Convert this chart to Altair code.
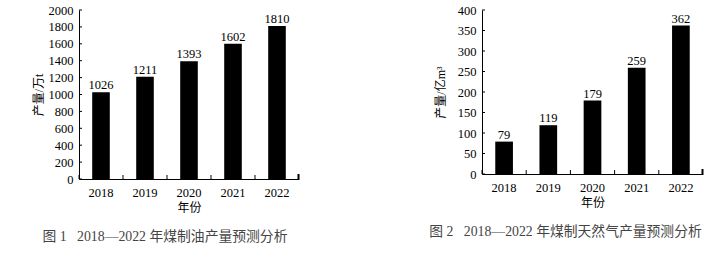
import altair as alt
import pandas as pd

# Forecast output of coal-to-liquids and coal-to-gas, 2018-2022
years = ["2018", "2019", "2020", "2021", "2022"]
oil_output = [1026, 1211, 1393, 1602, 1810]      # 万t
gas_output = [79, 119, 179, 259, 362]            # 亿m³
oil_ticks = [0, 200, 400, 600, 800, 1000, 1200, 1400, 1600, 1800, 2000]
gas_ticks = [0, 50, 100, 150, 200, 250, 300, 350, 400]

FONT = "Liberation Serif, Noto Sans CJK SC"
NBSP = "\u00a0"


def panel(values, ticks, ymax, ytitle, caption, width, height, title_pad, cap_dx, cap_offset):
    df = pd.DataFrame({"year": years, "value": values})
    tick_df = pd.DataFrame({"value": ticks})

    x_axis = alt.Axis(
        ticks=False, tickSize=0, labelPadding=7, titlePadding=4,
        labelAngle=0, labelFontSize=12.5, domainColor="black", domainWidth=1,
    )
    x_scale = alt.Scale(paddingInner=0, paddingOuter=0)
    x = alt.X("year:N", sort=years, title="年份", scale=x_scale, axis=x_axis)
    y = alt.Y(
        "value:Q",
        title=ytitle,
        scale=alt.Scale(domain=[0, ymax], nice=False, zero=True),
        axis=alt.Axis(
            values=ticks, format="d", labelOverlap=False,
            ticks=False, tickSize=0, labelPadding=6, labelFontSize=12.5,
            titlePadding=title_pad, grid=False,
            domainColor="black", domainWidth=1,
        ),
    )

    bars = alt.Chart(df).mark_bar(
        color="black", width=alt.RelativeBandSize(0.4)
    ).encode(x=x, y=y)

    labels = alt.Chart(df).mark_text(
        baseline="alphabetic", dy=-3, font=FONT, fontSize=12.5, color="black"
    ).encode(x=x, y=y, text="value:Q")

    # inward-pointing ticks on the value axis
    ytick = alt.Chart(tick_df).mark_rule(color="black", strokeWidth=1).encode(
        y=y, x=alt.value(0), x2=alt.value(3)
    )

    # upward ticks at the category boundaries
    xtick = alt.Chart(df).mark_rule(color="black", strokeWidth=1).encode(
        x=alt.X("year:N", sort=years, title="年份", scale=x_scale,
                axis=x_axis, bandPosition=0),
        y=alt.value(height), y2=alt.value(height - 4),
    )
    xend = alt.Chart(df.head(1)).mark_rule(color="black", strokeWidth=2).encode(
        x=alt.value(width - 0.5), y=alt.value(height), y2=alt.value(height - 5)
    )

    return alt.layer(bars, labels, ytick, xtick, xend).properties(
        width=width,
        height=height,
        title=alt.TitleParams(
            caption, orient="bottom", anchor="middle", dx=cap_dx,
            offset=cap_offset, font=FONT, fontSize=13.8, fontWeight="normal",
            color="#444444", limit=400,
        ),
    )


left = panel(oil_output, oil_ticks, 2000, "产量/万t",
             f"图 1{NBSP * 3}2018—2022 年煤制油产量预测分析",
             220, 169, 3, -24, 16)
right = panel(gas_output, gas_ticks, 400, "产量/亿m³",
              f"图 2{NBSP * 3}2018—2022 年煤制天然气产量预测分析",
              221, 164, 10, -27, 16)

chart = alt.hconcat(left, right, spacing=183, bounds="flush").properties(
    padding={"left": 32, "top": 4, "right": 5, "bottom": 5},
    background="white",
).configure_view(stroke=None).configure_axis(
    labelFont=FONT, labelColor="black",
    titleFont=FONT, titleFontSize=12, titleFontWeight="normal", titleColor="black",
).configure_title(
    font=FONT,
)

chart.save("out.html", embed_options={"renderer": "svg", "actions": False})
